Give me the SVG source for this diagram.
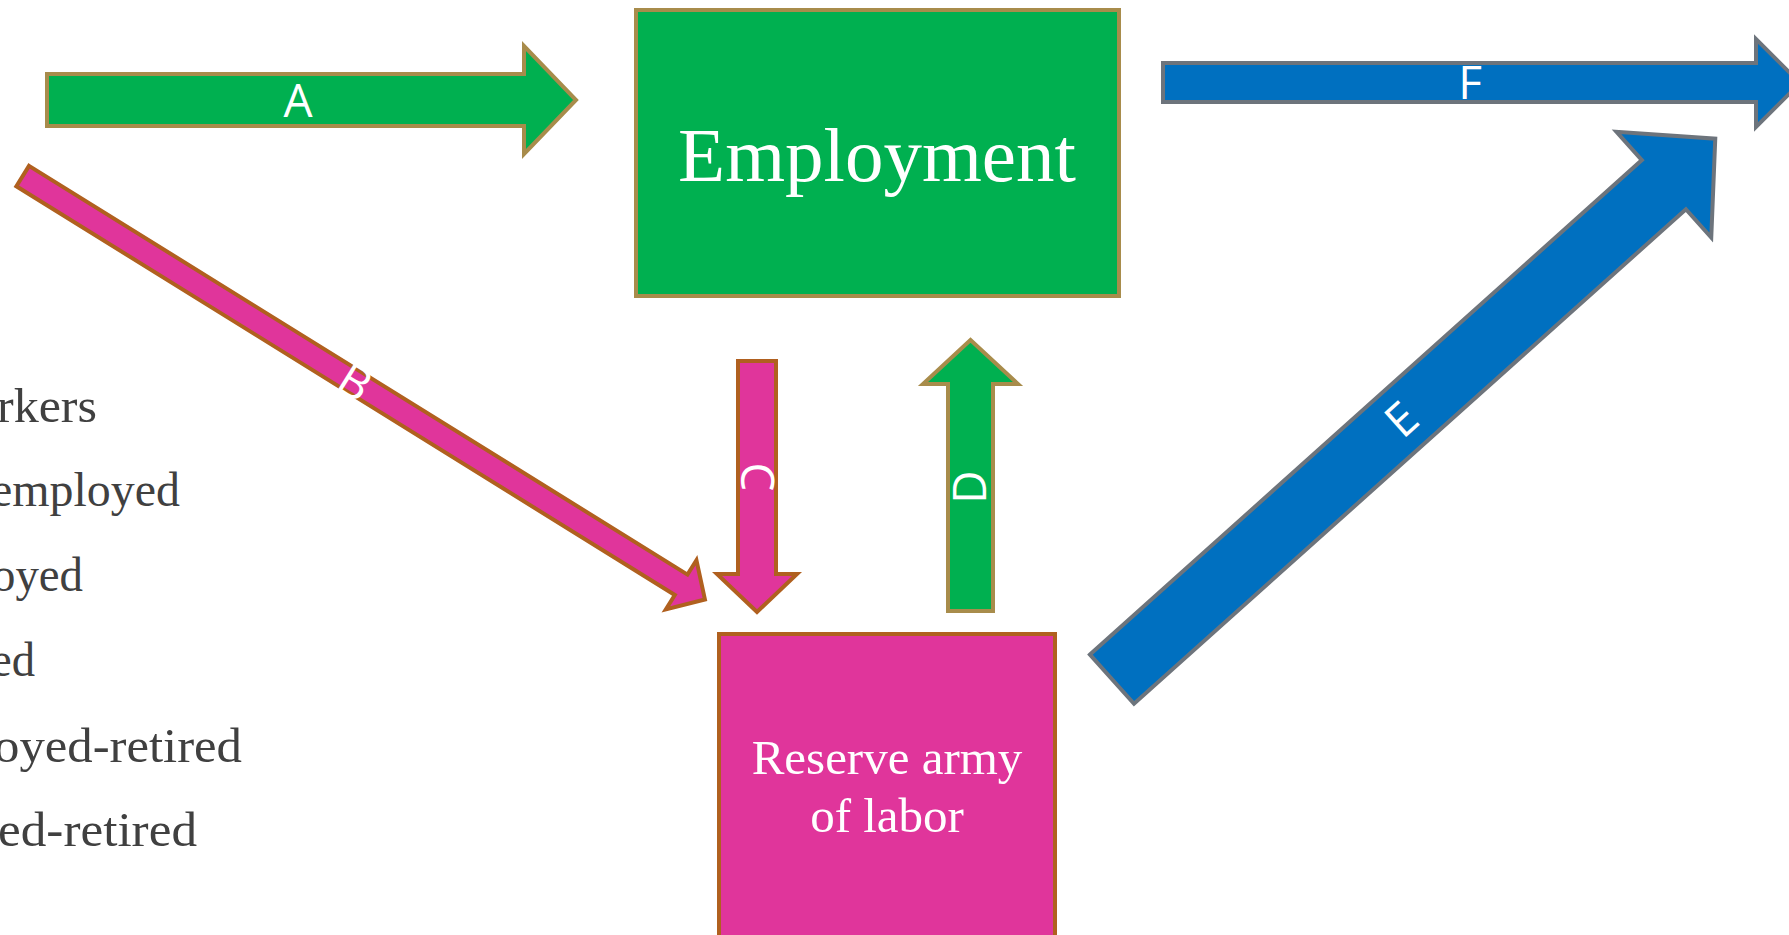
<svg xmlns="http://www.w3.org/2000/svg" width="1789" height="935" viewBox="0 0 1789 935">
<style>
.grn{fill:#00B050;stroke:#A88C4B;stroke-width:4;stroke-linejoin:miter}
.pnk{fill:#E0359B;stroke:#B0601F;stroke-width:4;stroke-linejoin:miter}
.blu{fill:#0070C0;stroke:#6D747C;stroke-width:4;stroke-linejoin:miter}
.lbl{font-family:"Open Sans","Noto Sans",sans-serif;font-size:46px;fill:#FFFFFF;text-anchor:middle}
.box{font-family:"Liberation Serif","DejaVu Serif",serif;fill:#FFFFFF;text-anchor:middle}
.side{font-family:"Liberation Serif","DejaVu Serif",serif;font-size:48px;fill:#404040}
</style>
<rect width="1789" height="935" fill="#FFFFFF"/>
<g id="side-list">
<text class="side" x="-3" y="422" textLength="100" lengthAdjust="spacingAndGlyphs">rkers</text>
<text class="side" x="-9" y="506" textLength="189" lengthAdjust="spacingAndGlyphs">employed</text>
<text class="side" x="-8" y="591" textLength="91" lengthAdjust="spacingAndGlyphs">oyed</text>
<text class="side" x="-9" y="676" textLength="44" lengthAdjust="spacingAndGlyphs">ed</text>
<text class="side" x="-6" y="762" textLength="248" lengthAdjust="spacingAndGlyphs">oyed-retired</text>
<text class="side" x="-2" y="846" textLength="199" lengthAdjust="spacingAndGlyphs">ed-retired</text>
</g>
<g id="employment">
<rect class="grn" x="636" y="10" width="483" height="286"/>
<text class="box" x="877" y="181" font-size="77">Employment</text>
</g>
<g id="reserve-army">
<rect class="pnk" x="719" y="634" width="336" height="330"/>
<text class="box" x="887" y="774" font-size="49">Reserve army</text>
<text class="box" x="887" y="832" font-size="49">of labor</text>
</g>
<g id="connectors">
<g id="arrow-A">
<path class="grn" d="M47,74 H524 V46 L576,100 L524,154 V126 H47 Z"/>
<text class="lbl" x="298" y="117">A</text>
</g>
<g id="arrow-B" transform="translate(21,175) rotate(31.83)">
<path class="pnk" d="M2,-12 H777 V-29 L805,0 L777,29 V12 H2 Z"/>
<text class="lbl" x="393" y="16">B</text>
</g>
<g id="arrow-C">
<path class="pnk" d="M738,361 H776 V574 H797 L757,612 L717,574 H738 Z"/>
<text class="lbl" transform="translate(757,477) rotate(90)" x="0" y="16">C</text>
</g>
<g id="arrow-D">
<path class="grn" d="M948,611 V384 H923 L970.5,340 L1018,384 H993 V611 Z"/>
<text class="lbl" transform="translate(970,487) rotate(-90)" x="0" y="16">D</text>
</g>
<g id="arrow-E" transform="translate(1110.5,680.5) rotate(-41.86)">
<path class="blu" d="M2,-33 H743 V-71 L812,0 L743,71 V33 H2 Z"/>
<text class="lbl" x="391" y="16">E</text>
</g>
<g id="arrow-F">
<path class="blu" d="M1163,63 H1756 V39 L1800,83 L1756,127 V102 H1163 Z"/>
<text class="lbl" x="1470" y="99">F</text>
</g>
</g>
</svg>
